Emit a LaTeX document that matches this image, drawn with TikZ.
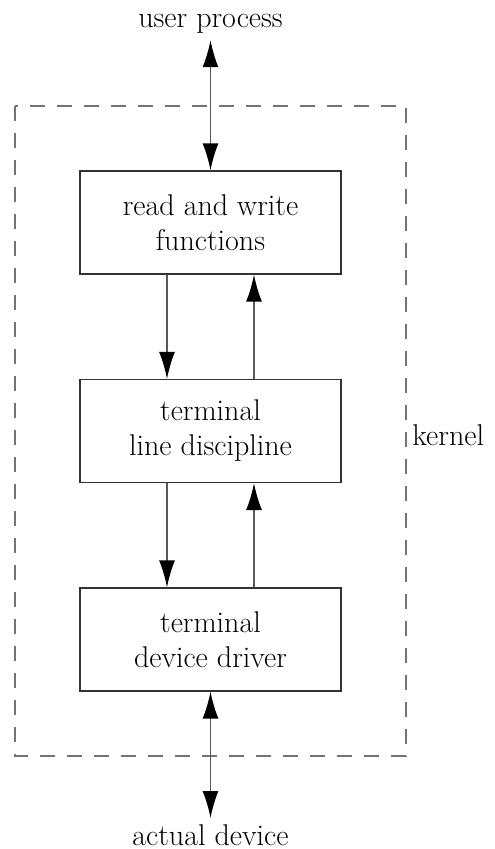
\documentclass[tikz,border=0pt]{standalone}
\usetikzlibrary{arrows.meta}

\tikzset{
  layer/.style={draw=black!80,line width=.6pt,fill=white,minimum width=130.5pt,
    minimum height=51.5pt,align=center,inner sep=0pt},
  lbl/.style={inner sep=3pt},
  tip/.style={Latex[length=13.5pt,width=8pt,color=black]},
  flow/.style={draw=black!65,line width=.8pt,-{Latex[length=13.5pt,width=8pt,color=black]}},
  both/.style={draw=black!65,line width=.8pt,
    {Latex[length=13.5pt,width=8pt,color=black]}-{Latex[length=13.5pt,width=8pt,color=black]}},
  kernelbox/.style={draw=black!55,line width=1pt,dash pattern=on 7.5pt off 6pt}
}

\begin{document}
\begin{tikzpicture}[x=.5pt,y=-.5pt,font=\fontsize{15}{17.5}\selectfont]
\useasboundingbox (0,0) rectangle (494,849);

% kernel boundary
\draw[kernelbox] (15,106) rectangle (406,756);
\node[anchor=base west,inner sep=0pt] (kernel) at (412,445) {kernel};

% the three layers
\node[layer] (rw) at (210.5,222.5) {read and write\\functions};
\node[layer] (ld) at (210.5,431) {terminal\\line discipline};
\node[layer] (dd) at (210.5,639.5) {terminal\\device driver};

\node[lbl,anchor=base] (user) at (210.5,28) {user process};
\node[lbl,anchor=north] (dev) at (210.5,818) {actual device};

% data paths
\draw[both] (user.south) -- (rw.north);
\draw[flow] ([xshift=-21.75pt]rw.south) -- ([xshift=-21.75pt]ld.north);
\draw[flow] ([xshift=21.75pt]ld.north) -- ([xshift=21.75pt]rw.south);
\draw[flow] ([xshift=-21.75pt]ld.south) -- ([xshift=-21.75pt]dd.north);
\draw[flow] ([xshift=21.75pt]dd.north) -- ([xshift=21.75pt]ld.south);
\draw[both] (dd.south) -- (dev.north);
\end{tikzpicture}
\end{document}
